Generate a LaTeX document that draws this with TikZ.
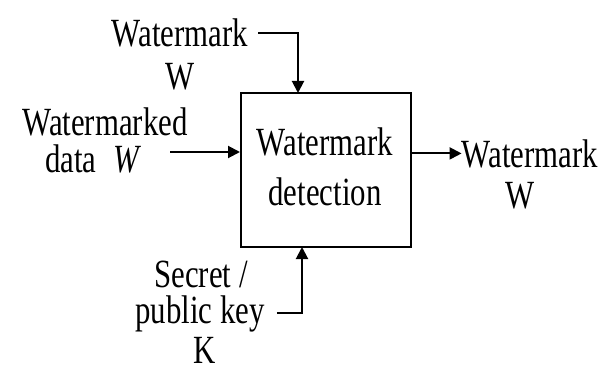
\documentclass[tikz,border=0pt]{standalone}
\usepackage{fontspec}
\setmainfont{Liberation Serif}[FakeStretch=0.77]
\usepackage{tikz}
\usetikzlibrary{arrows.meta, positioning, calc}

\begin{document}
\begin{tikzpicture}[
    x=0.5pt, y=-0.5pt,
    every node/.style={font=\fontsize{20}{24}\selectfont, inner sep=0pt, anchor=base},
    block/.style={rectangle, draw, line width=1pt, minimum width=85pt, minimum height=77pt, anchor=center},
    arrow/.style={-{Triangle[length=6pt,width=6pt]}, line width=1pt}
]
\useasboundingbox (0,0) rectangle (609,369);

\node[block] (detect) at (326,170) {};
\node (dettop) at (325,155) {Watermark};
\node (detbot) at (325,205) {detection};

% inputs
\node (wmin) at (180,47) {Watermark};
\node (wmsym) at (180,90) {W};
\node (marked) at (105,135) {Watermarked};
\node (data) at (71,172) {data};
\node (datasym) at (127,172) {\textit{W}};
\node (secret) at (201,287) {Secret /};
\node (key) at (200,323) {public key};
\node (keysym) at (205,363) {K};

% output
\node (wmout) at (530,167) {Watermark};
\node (wmoutsym) at (520,208) {W};

\coordinate (topin) at (298,93);
\coordinate (datain) at (170,152);
\coordinate (keyin) at (302,247);

\draw[arrow] ($(wmin.east)+(10,0)$) -| (topin);
\draw[arrow] (datain) -- (detect.west |- datain);
\draw[arrow] (detect.east |- wmout.west) -- (wmout.west);
\draw[arrow] ($(key.east)+(12,0)$) -| (keyin);

\end{tikzpicture}
\end{document}
